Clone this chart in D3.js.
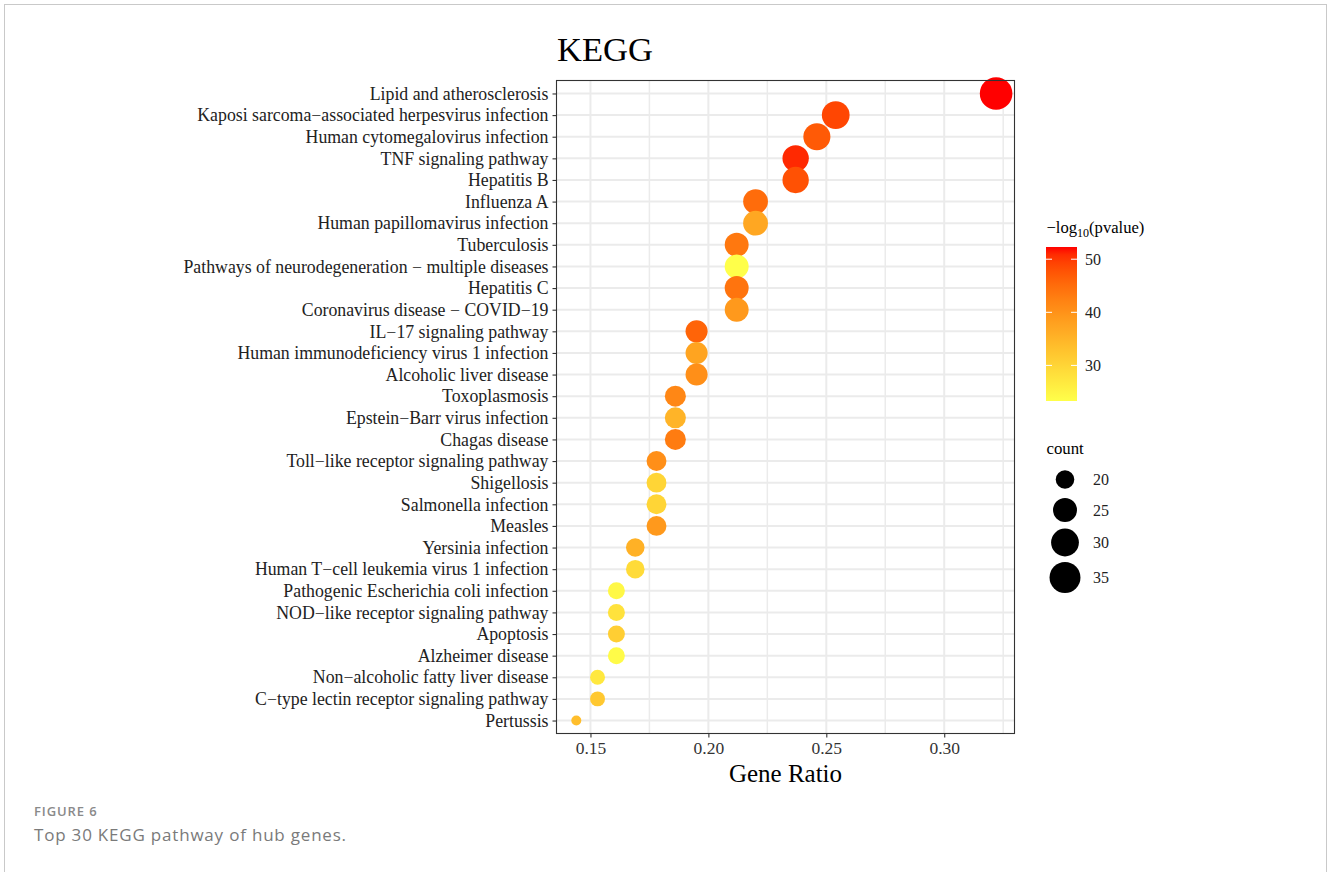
<!DOCTYPE html>
<html>
<head>
<meta charset="utf-8">
<script src="https://cdn.jsdelivr.net/npm/d3@7"></script>
<style>
  html, body { margin: 0; padding: 0; background: #fff; }
  svg { display: block; }
</style>
</head>
<body>
<svg id="chart" width="1328" height="872"></svg>
<script>
// ---- data ----
const pathways = [
  "Lipid and atherosclerosis",
  "Kaposi sarcoma\u2212associated herpesvirus infection",
  "Human cytomegalovirus infection",
  "TNF signaling pathway",
  "Hepatitis B",
  "Influenza A",
  "Human papillomavirus infection",
  "Tuberculosis",
  "Pathways of neurodegeneration \u2212 multiple diseases",
  "Hepatitis C",
  "Coronavirus disease \u2212 COVID\u221219",
  "IL\u221217 signaling pathway",
  "Human immunodeficiency virus 1 infection",
  "Alcoholic liver disease",
  "Toxoplasmosis",
  "Epstein\u2212Barr virus infection",
  "Chagas disease",
  "Toll\u2212like receptor signaling pathway",
  "Shigellosis",
  "Salmonella infection",
  "Measles",
  "Yersinia infection",
  "Human T\u2212cell leukemia virus 1 infection",
  "Pathogenic Escherichia coli infection",
  "NOD\u2212like receptor signaling pathway",
  "Apoptosis",
  "Alzheimer disease",
  "Non\u2212alcoholic fatty liver disease",
  "C\u2212type lectin receptor signaling pathway",
  "Pertussis"
];
const geneRatio = [0.322, 0.254, 0.246, 0.237, 0.237, 0.220, 0.220, 0.212, 0.212, 0.212,
                   0.212, 0.195, 0.195, 0.195, 0.186, 0.186, 0.186, 0.178, 0.178, 0.178,
                   0.178, 0.169, 0.169, 0.161, 0.161, 0.161, 0.161, 0.153, 0.153, 0.144];
const counts = [38, 30, 29, 28, 28, 26, 26, 25, 25, 25,
                25, 23, 23, 23, 22, 22, 22, 21, 21, 21,
                21, 20, 20, 19, 19, 19, 19, 18, 18, 17];
const negLogP = [52.3, 49, 47, 51, 48, 45, 37, 43.5, 23.3, 44,
                 39, 46, 37.5, 40.5, 41.5, 35, 43, 40.5, 30, 30,
                 39, 35.5, 29, 24.5, 28, 31, 24, 27, 32, 33.5];
const xTicks = [0.15, 0.20, 0.25, 0.30];
const xMinorTicks = [0.125, 0.175, 0.225, 0.275, 0.325];
const colorTicks = [30, 40, 50];
const sizeTicks = [20, 25, 30, 35];

// ---- layout ----
const svg = d3.select("#chart");
const panel = { left: 556.5, right: 1014.5, top: 80.5, bottom: 733.5 };
const serif = "'Liberation Serif', 'Times New Roman', serif";

// outer card frame
svg.append("rect").attr("x", 4.5).attr("y", 4.5).attr("width", 1322).attr("height", 890)
  .attr("fill", "none").attr("stroke", "#c9c9c9").attr("stroke-width", 1);

const x = d3.scaleLinear().domain([0.1356, 0.3298]).range([panel.left, panel.right]);
const y = d3.scalePoint().domain(pathways).range([panel.top, panel.bottom]).padding(0.6);
const cMin = 23.3, cMax = 52.3;
const color = d3.scaleLinear().domain([cMin, cMax]).range(["#FFFF4A", "#FF0000"])
  .interpolate(d3.interpolateLab).clamp(true);
const cntMin = d3.min(counts), cntMax = d3.max(counts);
const rBase = d3.scaleSqrt().domain([0, cntMax - cntMin]).range([5, 16.3]);
const r = c => rBase(c - cntMin);

const data = pathways.map((p, i) => ({ p, x: geneRatio[i], n: counts[i], c: negLogP[i] }));

const grid = svg.append("g");
grid.selectAll("line.minor").data(xMinorTicks.filter(t => x(t) > panel.left && x(t) < panel.right))
  .join("line").attr("x1", d => x(d)).attr("x2", d => x(d))
  .attr("y1", panel.top).attr("y2", panel.bottom)
  .attr("stroke", "#EBEBEB").attr("stroke-width", 1.5);
grid.selectAll("line.vmaj").data(xTicks).join("line")
  .attr("x1", d => x(d)).attr("x2", d => x(d))
  .attr("y1", panel.top).attr("y2", panel.bottom)
  .attr("stroke", "#EBEBEB").attr("stroke-width", 2);
grid.selectAll("line.hmaj").data(pathways).join("line")
  .attr("x1", panel.left).attr("x2", panel.right)
  .attr("y1", d => y(d)).attr("y2", d => y(d))
  .attr("stroke", "#EBEBEB").attr("stroke-width", 2);

// points
svg.append("g").selectAll("circle").data(data).join("circle")
  .attr("cx", d => x(d.x)).attr("cy", d => y(d.p)).attr("r", d => r(d.n))
  .attr("fill", d => color(d.c));

// panel border
svg.append("rect").attr("x", panel.left).attr("y", panel.top)
  .attr("width", panel.right - panel.left).attr("height", panel.bottom - panel.top)
  .attr("fill", "none").attr("stroke", "#333").attr("stroke-width", 1.1);

// axes
const xAxis = d3.axisBottom(x).tickValues(xTicks).tickFormat(d3.format(".2f")).tickSize(4).tickPadding(4);
const gx = svg.append("g").attr("transform", `translate(0,${panel.bottom})`).call(xAxis);
gx.select(".domain").remove();
gx.selectAll(".tick line").attr("stroke", "#333").attr("stroke-width", 1.1);
gx.selectAll(".tick text").attr("font-family", serif).attr("font-size", 17.5).attr("fill", "#333");

const yAxis = d3.axisLeft(y).tickSize(4).tickPadding(4);
const gy = svg.append("g").attr("transform", `translate(${panel.left},0)`).call(yAxis);
gy.select(".domain").remove();
gy.selectAll(".tick line").attr("stroke", "#333").attr("stroke-width", 1.1);
gy.selectAll(".tick text").attr("font-family", serif).attr("font-size", 17.8).attr("fill", "#222");

// title & axis title
svg.append("text").attr("x", 557).attr("y", 61).attr("font-family", serif)
  .attr("font-size", 34.5).attr("fill", "#000").text("KEGG");
svg.append("text").attr("x", (panel.left + panel.right) / 2).attr("y", 782)
  .attr("text-anchor", "middle").attr("font-family", serif).attr("font-size", 25)
  .attr("fill", "#000").text("Gene Ratio");

// color legend
const lg = svg.append("g");
const lt = lg.append("text").attr("x", 1046.5).attr("y", 233).attr("font-family", serif)
  .attr("font-size", 16.6).attr("fill", "#000").attr("text-anchor", "start");
lt.append("tspan").attr("x", 1046.5).text("\u2212log");
lt.append("tspan").attr("font-size", 12).attr("dy", 4).text("10");
lt.append("tspan").attr("dy", -4).text("(pvalue)");

const cbTop = 247, cbBot = 401, cbX = 1046, cbW = 31;
const cy = d3.scaleLinear().domain([cMin, cMax]).range([cbBot, cbTop]);
const defs = svg.append("defs");
const grad = defs.append("linearGradient").attr("id", "cgrad")
  .attr("x1", 0).attr("y1", 1).attr("x2", 0).attr("y2", 0);
d3.range(0, 1.0001, 0.05).forEach(t => {
  grad.append("stop").attr("offset", t).attr("stop-color", color(cMin + t * (cMax - cMin)));
});
lg.append("rect").attr("x", cbX).attr("y", cbTop).attr("width", cbW).attr("height", cbBot - cbTop)
  .attr("fill", "url(#cgrad)");
colorTicks.forEach(t => {
  lg.append("line").attr("x1", cbX).attr("x2", cbX + 6).attr("y1", cy(t)).attr("y2", cy(t))
    .attr("stroke", "#fff").attr("stroke-width", 1);
  lg.append("line").attr("x1", cbX + cbW - 6).attr("x2", cbX + cbW).attr("y1", cy(t)).attr("y2", cy(t))
    .attr("stroke", "#fff").attr("stroke-width", 1);
  lg.append("text").attr("x", 1085).attr("y", cy(t)).attr("dy", "0.35em")
    .attr("font-family", serif).attr("font-size", 16).attr("fill", "#222").text(t);
});

// size legend
const sg = svg.append("g");
sg.append("text").attr("x", 1046.5).attr("y", 454).attr("font-family", serif)
  .attr("font-size", 16.8).attr("fill", "#000").text("count");
const sizePos = [479.5, 510, 542.5, 577.5];
sizeTicks.forEach((t, i) => {
  sg.append("circle").attr("cx", 1065).attr("cy", sizePos[i]).attr("r", r(t)).attr("fill", "#000");
  sg.append("text").attr("x", 1093).attr("y", sizePos[i]).attr("dy", "0.35em")
    .attr("font-family", serif).attr("font-size", 16).attr("fill", "#222").text(t);
});

// caption
svg.append("text").attr("x", 34).attr("y", 816).attr("font-family", "'Open Sans', sans-serif")
  .attr("font-size", 13).attr("font-weight", 600).attr("fill", "#8a8a8a").attr("letter-spacing", 0.9)
  .text("FIGURE 6");
svg.append("text").attr("x", 34).attr("y", 841).attr("font-family", "'Open Sans', sans-serif")
  .attr("font-size", 17).attr("fill", "#7a7a7a").attr("letter-spacing", 0.8)
  .text("Top 30 KEGG pathway of hub genes.");
</script>
</body>
</html>
